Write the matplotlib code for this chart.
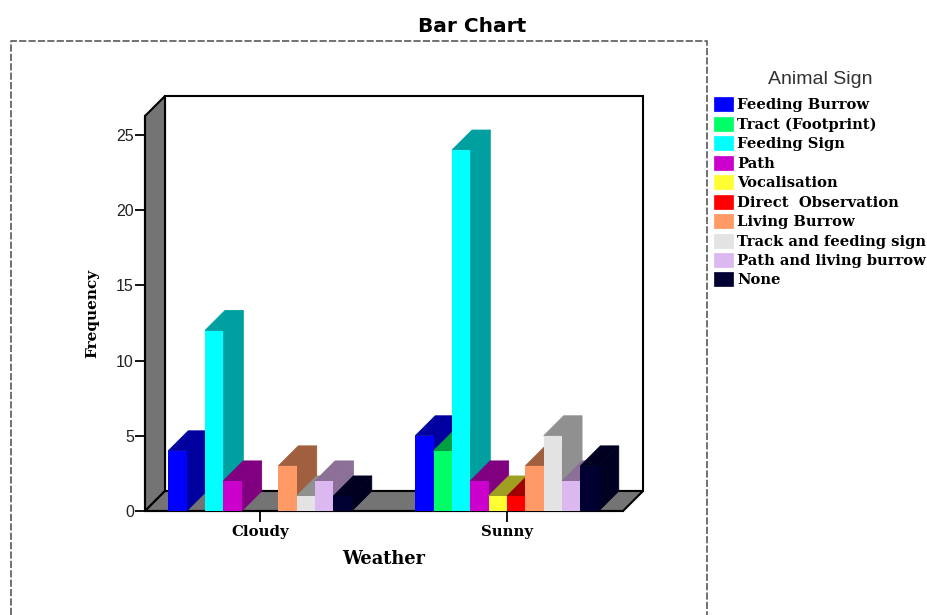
#!/usr/bin/env python3
# bar chart of animal signs by weather, with the fake 3D look
import matplotlib
matplotlib.use("Agg")
import matplotlib.pyplot as plt
from matplotlib.lines import Line2D
from matplotlib.patches import Patch, Polygon

W, H = 928, 615

weather = ["Cloudy", "Sunny"]
signs = ["Feeding Burrow", "Tract (Footprint)", "Feeding Sign", "Path", "Vocalisation",
         "Direct  Observation", "Living Burrow", "Track and feeding sign",
         "Path and living burrow", "None"]
cloudy = [4, 0, 12, 2, 0, 0, 3, 1, 2, 1]
sunny = [5, 4, 24, 2, 1, 1, 3, 5, 2, 3]
front_colors = ["#0000ff", "#00ff66", "#00ffff", "#cc00cc", "#ffff33",
                "#ff0000", "#ff9966", "#e3e3e3", "#dcb8f0", "#000033"]
dark_colors = ["#0000a0", "#00a040", "#00a0a0", "#800080", "#a0a020",
               "#a00000", "#a06040", "#909090", "#8c7098", "#000020"]
y_ticks = [0, 5, 10, 15, 20, 25]

SERIF = "DejaVu Serif"


def fx(px):
    return px / W


def fy(py):
    return 1 - py / H


fig = plt.figure(figsize=(W / 100, H / 100), dpi=100)

# front plane of the plot, in pixels: x 145-623, y 116-511
ax = fig.add_axes([fx(145), fy(511), (623 - 145) / W, (511 - 116) / H])
group_px = 247.0
y_px = 15.04
ax.set_xlim((145 - 260) / group_px, (623 - 260) / group_px)
ax.set_ylim(0, (511 - 116) / y_px)
ax.patch.set_visible(False)
for s in ["top", "right"]:
    ax.spines[s].set_visible(False)
ax.spines["left"].set_linewidth(1.5)
ax.spines["bottom"].set_linewidth(1.5)

x0, x1 = ax.get_xlim()
y0, y1 = ax.get_ylim()
dx = 20 / group_px
dy = 20 / y_px
slot = 18.35 / group_px

# walls
wall = dict(clip_on=False, edgecolor="black", linewidth=1.5)
ax.add_patch(Polygon([(x0 + dx, y0 + dy), (x1 + dx, y0 + dy), (x1 + dx, y1 + dy), (x0 + dx, y1 + dy)],
                     facecolor="white", zorder=1, **wall))
ax.add_patch(Polygon([(x0, y0), (x0 + dx, y0 + dy), (x0 + dx, y1 + dy), (x0, y1)],
                     facecolor="#747474", zorder=2, **wall))
ax.add_patch(Polygon([(x0, y0), (x0 + dx, y0 + dy), (x1 + dx, y0 + dy), (x1, y0)],
                     facecolor="#747474", zorder=2, **wall))

# bars, left to right so the right ones cover the side of the left ones
z = 3
for g, values in enumerate([cloudy, sunny]):
    for i, v in enumerate(values):
        if v == 0:
            continue
        left = g + (i - 5) * slot
        right = left + slot
        c = dark_colors[i]
        ax.add_patch(Polygon([(right, 0), (right + dx, dy), (right + dx, v + dy), (right, v)],
                             facecolor=c, edgecolor=c, linewidth=0.6, clip_on=False, zorder=z))
        ax.add_patch(Polygon([(left, v), (left + dx, v + dy), (right + dx, v + dy), (right, v)],
                             facecolor=c, edgecolor=c, linewidth=0.6, clip_on=False, zorder=z))
        ax.bar(left, v, width=slot, align="edge", color=front_colors[i], zorder=z + 0.5, clip_on=False)
        z += 1

ax.set_xlim(x0, x1)
ax.set_ylim(y0, y1)
ax.set_yticks(y_ticks)
ax.set_xticks([0, 1])
ax.set_xticklabels(weather, family=SERIF, fontweight="bold", fontsize=10.7)
ax.tick_params(axis="y", length=7, width=1.3, labelsize=11.5, pad=1, labelcolor="#222222")
ax.tick_params(axis="x", length=8, width=1.3, pad=2)
for t in ax.get_yticklabels():
    t.set_family("Liberation Sans")
ax.set_ylabel("Frequency", family=SERIF, fontweight="bold", fontsize=11, labelpad=12)
ax.set_xlabel("Weather", family=SERIF, fontweight="bold", fontsize=12.8, labelpad=8)

# dashed chart frame, runs off the bottom of the picture
frame = dict(color="#666666", linewidth=1.3, linestyle=(0, (4, 1.2)))
fig.add_artist(Line2D([fx(11), fx(11), fx(707), fx(707)], [fy(615), fy(41), fy(41), fy(615)], **frame))

fig.text(fx(472), fy(26), "Bar Chart", ha="center", va="center",
         family="DejaVu Sans", fontweight="bold", fontsize=14.5)

fig.text(fx(820), fy(79), "Animal Sign", ha="center", va="center",
         family="Liberation Sans", fontsize=14, color="#333333")
handles = [Patch(facecolor=c, edgecolor=c, linewidth=0.5) for c in front_colors]
fig.legend(handles, signs, loc="upper left",
           bbox_to_anchor=(fx(711), fy(94.5)), frameon=False, ncol=1,
           prop={"family": SERIF, "weight": "bold", "size": 10.6},
           handlelength=1.29, handleheight=1.09, handletextpad=0.3, labelspacing=0.3,
           borderpad=0.2, borderaxespad=0)

fig.savefig("out.png", dpi=100)
